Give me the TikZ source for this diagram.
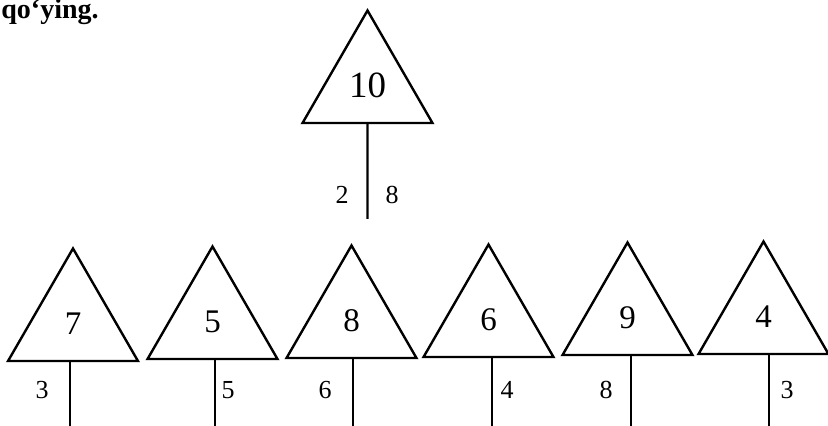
\documentclass[tikz,border=0pt]{standalone}
\usepackage{fontspec}
\setmainfont{Liberation Serif}
\usetikzlibrary{shapes.geometric,positioning}

\begin{document}
\begin{tikzpicture}[
  x=0.5pt, y=-0.5pt,
  tri/.style={regular polygon, regular polygon sides=3, draw=black,
              line width=1.2pt, inner sep=0pt, minimum size=75pt,
              font=\fontsize{16.5}{18}\selectfont},
  stem/.style={draw=black, line width=1.1pt},
  part/.style={font=\fontsize{13}{14}\selectfont, inner sep=0pt},
]
  \useasboundingbox (0,0) rectangle (828,426);

  % Heading line, at the top edge of the page.
  \node[anchor=base west, inner sep=0pt, font=\bfseries\fontsize{14}{16}\selectfont]
    (head) at (1,19) {qo‘ying.};

  % The whole number, split into two parts.
  \node[tri, font=\fontsize{18.5}{20}\selectfont] (top) at (367.5,85.5) {10};
  \coordinate (topend) at (367.5,219);
  \draw[stem] (top.south) -- (topend);
  \node[part] (topl) at (342,195) {2};
  \node[part] (topr) at (392,195) {8};

  % Row of houses: one part is given, the other is left blank.
  \foreach \n/\x/\y/\v/\sx/\lx/\l in {a/73/323.5/7/70/42/3,
                                      b/212.5/321.5/5/215/228/5,
                                      c/351.5/320.5/8/353/325/6,
                                      d/488.5/319.5/6/492/507/4,
                                      e/627.5/317.5/9/631/606/8,
                                      f/763.5/316.5/4/769/787/3}
  {
    \node[tri] (t\n) at (\x,\y) {\v};
    \coordinate (s\n) at (\sx,426);
    \draw[stem] (s\n |- t\n.south) -- (s\n);
    \node[part] (l\n) at (\lx,390) {\l};
  }
\end{tikzpicture}
\end{document}
